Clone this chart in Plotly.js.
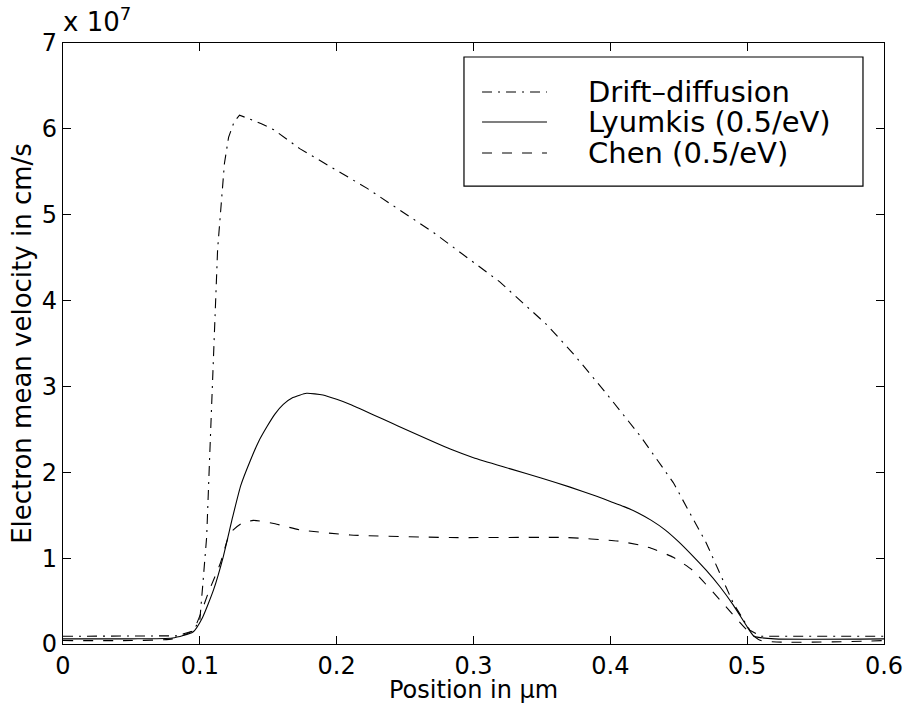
<!DOCTYPE html>
<html>
<head>
<meta charset="utf-8">
<script src="https://cdn.plot.ly/plotly-3.0.1.min.js"></script>
<style>html,body{margin:0;padding:0;background:#fff;}#chart{width:908px;height:715px;}</style>
</head>
<body>
<div id="chart"></div>
<script>
// ---- data (velocity in units of 1e7 cm/s, position in µm) ----
const seriesNames = ["Drift\u2013diffusion", "Lyumkis (0.5/eV)", "Chen (0.5/eV)"];

const xDrift = [0, 0.05, 0.083, 0.095, 0.100, 0.102, 0.105, 0.107, 0.110, 0.113, 0.116, 0.118, 0.121, 0.125, 0.129, 0.135, 0.145, 0.154, 0.173, 0.222, 0.271, 0.319, 0.3535, 0.373, 0.397, 0.422, 0.446, 0.470, 0.490, 0.502, 0.510, 0.55, 0.6];
const yDrift = [0.09, 0.09, 0.095, 0.15, 0.28, 0.66, 1.25, 2.1, 3.3, 4.6, 5.2, 5.6, 5.9, 6.08, 6.16, 6.12, 6.06, 5.99, 5.77, 5.31, 4.79, 4.22, 3.72, 3.38, 2.92, 2.42, 1.88, 1.18, 0.47, 0.16, 0.09, 0.09, 0.09];

const xLyum = [0, 0.05, 0.08, 0.095, 0.102, 0.110, 0.117, 0.124, 0.130, 0.137, 0.143, 0.149, 0.155, 0.161, 0.168, 0.178, 0.190, 0.200, 0.210, 0.246, 0.283, 0.30, 0.327, 0.35, 0.37, 0.39, 0.40, 0.41, 0.42, 0.43, 0.44, 0.45, 0.46, 0.47, 0.48, 0.49, 0.50, 0.505, 0.52, 0.6];
const yLyum = [0.06, 0.06, 0.07, 0.14, 0.31, 0.63, 1.01, 1.48, 1.85, 2.14, 2.36, 2.53, 2.68, 2.79, 2.87, 2.92, 2.90, 2.85, 2.79, 2.53, 2.27, 2.17, 2.04, 1.93, 1.83, 1.72, 1.66, 1.60, 1.53, 1.44, 1.33, 1.19, 1.03, 0.86, 0.67, 0.45, 0.20, 0.09, 0.06, 0.06];

const xChen = [0, 0.05, 0.08, 0.095, 0.107, 0.115, 0.122, 0.130, 0.139, 0.155, 0.173, 0.210, 0.283, 0.368, 0.405, 0.422, 0.429, 0.446, 0.460, 0.482, 0.500, 0.510, 0.6];
const yChen = [0.04, 0.04, 0.06, 0.16, 0.63, 0.94, 1.29, 1.40, 1.44, 1.40, 1.33, 1.27, 1.24, 1.24, 1.20, 1.15, 1.12, 1.01, 0.86, 0.48, 0.16, 0.04, 0.04];

const xTicks = [0, 0.1, 0.2, 0.3, 0.4, 0.5, 0.6];
const xTickText = ["0", "0.1", "0.2", "0.3", "0.4", "0.5", "0.6"];
const yTicks = [0, 1, 2, 3, 4, 5, 6, 7];
const yTickText = ["0", "1", "2", "3", "4", "5", "6", "7"];

const xTitle = "Position in \u03bcm";
const yTitle = "Electron mean velocity in cm/s";
const exponentLabel = "x 10<sup>7</sup>";

// ---- styling ----
const FONT = "DejaVu Sans, Liberation Sans, Arial, sans-serif";
const dashes = ["10px,6px,2px,6px", "solid", "10px,10px"];

const traces = [
  {x: xDrift, y: yDrift, name: seriesNames[0], type: "scatter", mode: "lines",
   line: {color: "#000", width: 1.1, dash: dashes[0]}},
  {x: xLyum, y: yLyum, name: seriesNames[1], type: "scatter", mode: "lines",
   line: {color: "#000", width: 1.1, dash: dashes[1], shape: "spline", smoothing: 0.5}},
  {x: xChen, y: yChen, name: seriesNames[2], type: "scatter", mode: "lines",
   line: {color: "#000", width: 1.1, dash: dashes[2], shape: "spline", smoothing: 0.5}}
];

// manual legend (box, samples, labels) in paper coords
const legBox = {x0: 0.4884, x1: 0.9744, y0: 0.762, y1: 0.9767};
const rowY = [0.9185, 0.8686, 0.817];
const shapes = [{type: "rect", xref: "paper", yref: "paper", x0: legBox.x0, x1: legBox.x1, y0: legBox.y0, y1: legBox.y1,
  line: {color: "#000", width: 1.2}, fillcolor: "#fff", layer: "above"}];
const annotations = [
  {xref: "paper", yref: "paper", x: -0.003, y: 1.006, xanchor: "left", yanchor: "bottom",
   text: exponentLabel, showarrow: false, font: {family: FONT, size: 26, color: "#000"}},
  {xref: "paper", yref: "paper", x: 0.5, y: -0.05, xanchor: "center", yanchor: "top",
   text: xTitle, showarrow: false, font: {family: FONT, size: 24, color: "#000"}}
];
seriesNames.forEach((nm, i) => {
  shapes.push({type: "line", xref: "paper", yref: "paper", x0: 0.5104, x1: 0.5895, y0: rowY[i], y1: rowY[i],
    line: {color: "#000", width: 1.1, dash: dashes[i]}, layer: "above"});
  annotations.push({xref: "paper", yref: "paper", x: 0.637, y: rowY[i], xanchor: "left", yanchor: "middle",
    text: nm, showarrow: false, font: {family: FONT, size: 29, color: "#000"}});
});

const axisCommon = {
  showline: true, linecolor: "#000", linewidth: 1.2, mirror: "ticks",
  ticks: "inside", ticklen: 8, tickwidth: 1, tickcolor: "#000",
  showgrid: false, zeroline: false, tickmode: "array",
  tickfont: {family: FONT, size: 24, color: "#000"}
};

const layout = {
  width: 908, height: 715,
  margin: {l: 63, r: 24, t: 43, b: 71, pad: 0},
  paper_bgcolor: "#fff", plot_bgcolor: "#fff",
  showlegend: false,
  font: {family: FONT, color: "#000"},
  xaxis: Object.assign({}, axisCommon, {
    range: [0, 0.6], tickvals: xTicks, ticktext: xTickText
  }),
  yaxis: Object.assign({}, axisCommon, {
    range: [0, 7], tickvals: yTicks, ticktext: yTickText,
    title: {text: yTitle, font: {family: FONT, size: 26, color: "#000"}, standoff: 2}
  }),
  shapes: shapes,
  annotations: annotations
};

Plotly.newPlot("chart", traces, layout, {staticPlot: true, displayModeBar: false});
</script>
</body>
</html>
